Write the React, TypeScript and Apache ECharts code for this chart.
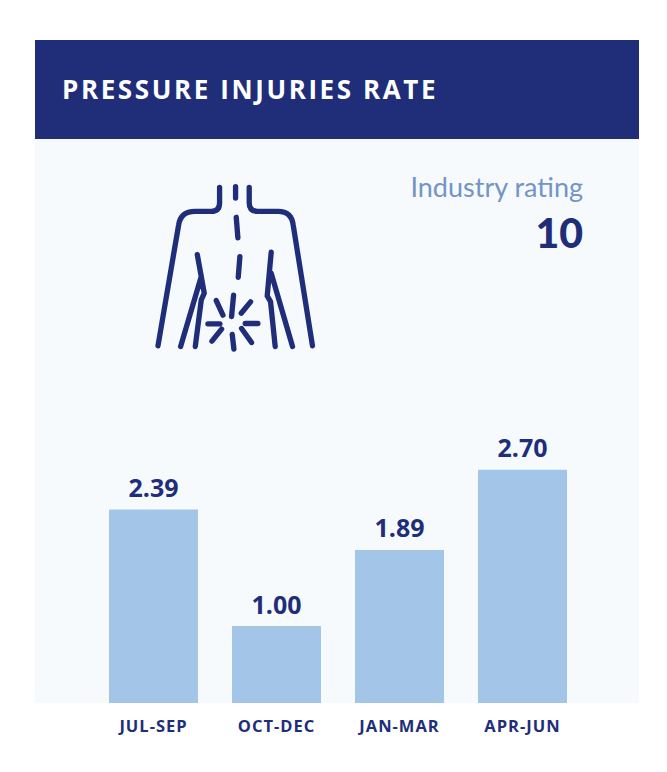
import React, { useEffect, useRef } from "react";
import * as echarts from "echarts";

const title = "PRESSURE INJURIES RATE";
const ratingLabel = "Industry rating";
const ratingValue = "10";
const categories = ["JUL-SEP", "OCT-DEC", "JAN-MAR", "APR-JUN"];
// Bar heights as drawn in the picture (they are not strictly proportional to the printed figures).
const barHeights = [2.39, 0.95, 1.89, 2.88];
const printedValues = ["2.39", "1.00", "1.89", "2.70"];

const NAVY = "#202e7a";
const BAR = "#a3c6e8";
const PANEL = "#f6fafd";
const SOFT = "#7394c4";

const bodyPath =
  "M239 52 L239 98 Q239 124 214 124 L165 124 Q122 124 116 165 L54 528 " +
  "M328 52 L328 98 Q328 124 352 124 L415 124 Q455 124 460 165 L518 528 " +
  "M287 50 L287 84 M289 142 L294 204 M300 260 L295 322 " +
  "M172 254 L193 370 L184 390 L166 530 M184 320 L122 530 " +
  "M394 247 L382 378 L392 395 L406 530 M394 310 L458 530 " +
  "M281 376 L275 440 M229 392 L249 436 M332 396 L304 430 M204 462 L240 462 " +
  "M316 461 L354 461 M245 478 L216 514 M277 494 L282 538 M305 476 L335 518";

echarts.graphic.registerShape("bodyIcon", echarts.graphic.extendPath(bodyPath as any, {}) as any);

export default function App() {
  const ref = useRef<HTMLDivElement>(null);
  useEffect(() => {
    document.body.style.margin = "0";
    const chart = echarts.init(ref.current!, null, { renderer: "svg" });
    chart.setOption({
      animation: false,
      backgroundColor: "#ffffff",
      grid: { left: 92, width: 492, top: 460, height: 243 },
      xAxis: {
        type: "category",
        data: categories,
        axisLine: { show: false },
        axisTick: { show: false },
        axisLabel: {
          color: NAVY,
          fontFamily: "Open Sans",
          fontWeight: 700,
          fontSize: 16.5,
          margin: 14,
        },
      },
      yAxis: { type: "value", min: 0, max: 3, show: false },
      graphic: [
        { type: "rect", z: -10, shape: { x: 35, y: 139, width: 604, height: 564 }, style: { fill: PANEL } },
        { type: "rect", z: -9, shape: { x: 35, y: 40, width: 604, height: 99 }, style: { fill: NAVY } },
        {
          type: "text", x: 62, y: 89, z: 5,
          style: {
            text: title, fill: "#ffffff", font: "700 26px 'Open Sans'",
            textAlign: "left", textVerticalAlign: "middle",
          },
        },
        {
          type: "text", x: 583, y: 186, z: 5,
          style: {
            text: ratingLabel, fill: SOFT, font: "400 27px Lato",
            textAlign: "right", textVerticalAlign: "middle",
          },
        },
        {
          type: "text", x: 583, y: 232, z: 5,
          style: {
            text: ratingValue, fill: NAVY, font: "900 41px Lato",
            textAlign: "right", textVerticalAlign: "middle",
          },
        },
        {
          type: "bodyIcon", x: 140, y: 170, scaleX: 1 / 3, scaleY: 1 / 3, z: 5,
          style: { fill: "none", stroke: NAVY, lineWidth: 16, lineCap: "round", lineJoin: "round" },
        },
      ],
      series: [
        {
          type: "bar",
          data: barHeights,
          barWidth: 89,
          itemStyle: { color: BAR },
          label: {
            show: true,
            position: "top",
            distance: 10,
            color: NAVY,
            fontFamily: "Open Sans",
            fontWeight: 700,
            fontSize: 25,
            formatter: (p: any) => printedValues[p.dataIndex],
          },
        },
      ],
    });
    return () => chart.dispose();
  }, []);
  return (
    <>
      <style>{`
        .chart text[style*="26px"] { letter-spacing: 2.6px; }
        .chart text[style*="16.5px"] { letter-spacing: 1px; }
      `}</style>
      <div ref={ref} className="chart" style={{ width: 667, height: 772 }} />
    </>
  );
}
